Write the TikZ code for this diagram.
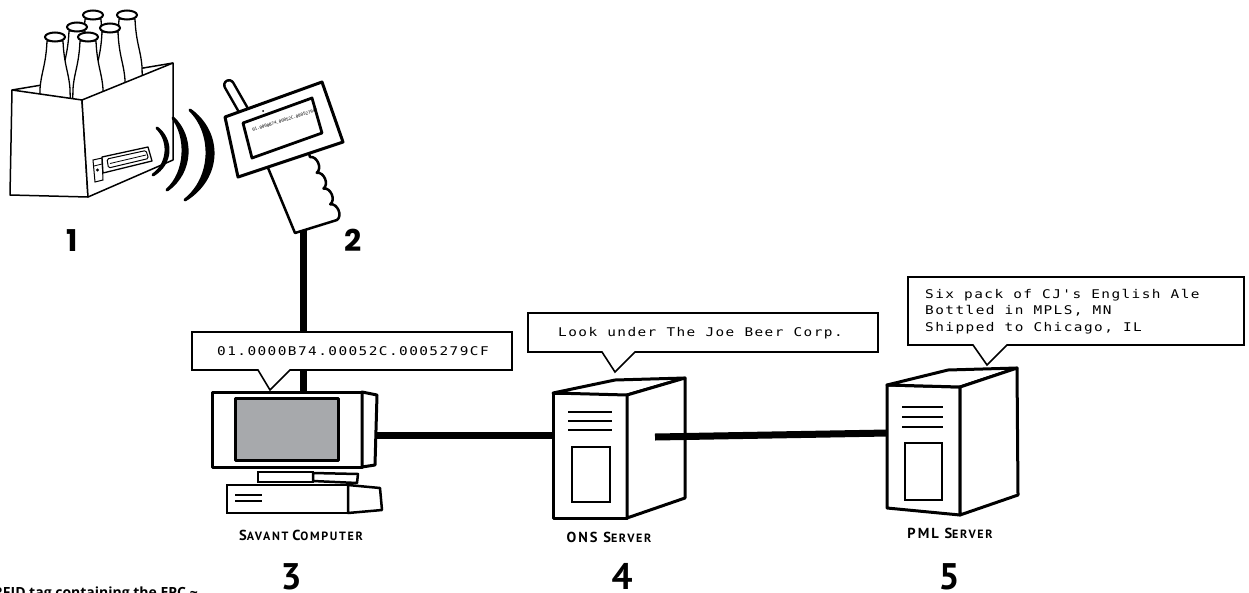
\documentclass[tikz,border=0pt]{standalone}
\usepackage{fontspec}
\setmainfont{PT Sans}
\newfontfamily\lcdfont[FakeStretch=1.2,LetterSpace=12]{DejaVu Sans Mono}
\newfontfamily\tinymono{DejaVu Sans Mono}
\newfontfamily\capfont[LetterSpace=14]{PT Sans}
\newfontfamily\geofont{Poppins}
\newfontfamily\notefont{Open Sans}
\definecolor{screengray}{HTML}{A7A9AC}

% caption word set as large initial + smaller capitals
\newcommand\capword[2]{{\fontsize{14.5}{16}\selectfont #1}{\fontsize{12}{14}\selectfont #2}}

\tikzset{
  bottlepic/.pic={
    \draw[line width=1.3pt, fill=white, line join=round]
      (-8,4) .. controls (-9,28) and (-14,36) .. (-15,52) -- (-16,90)
      -- (16,90) -- (15,52) .. controls (14,36) and (9,28) .. (8,4) -- cycle;
    \draw[line width=2pt, fill=white] (0,0) ellipse [x radius=10pt, y radius=4.5pt];
  }
}

\begin{document}
\begin{tikzpicture}[x=1pt,y=-1pt,
  boxline/.style={line width=3pt,line join=round,fill=white},
  cablestyle/.style={line width=7pt},
  bubble/.style={draw,line width=1.6pt,line join=miter,fill=white},
  bubbletext/.style={font=\lcdfont\fontsize{12}{16.5}\selectfont,anchor=west,inner sep=0pt,align=left},
  capstyle/.style={font=\capfont\bfseries,inner sep=0pt},
  digitstyle/.style={font=\bfseries\fontsize{37}{40}\selectfont,anchor=base,inner sep=0pt,text depth=0pt},
  geodigit/.style={font=\geofont\bfseries\fontsize{30}{32}\selectfont,anchor=base,inner sep=0pt},
  wavearc/.style={fill=black,draw=black,line width=3pt,line join=round},
]
\useasboundingbox (0,0) rectangle (1249,592);
\fill[white] (0,0) rectangle (1249,592);
\clip (0,0) rectangle (1249,592);

% ---------- connection points and cables ----------
\coordinate (readerfoot) at (303,226);
\coordinate (pctop) at (303,393);
\coordinate (pcside) at (376,435);
\coordinate (onsfront) at (554,435);
\coordinate (onsport) at (655,437);
\coordinate (pmlfront) at (888,433);
\draw[cablestyle] (readerfoot) -- (pctop);
\draw[cablestyle] (pcside) -- (onsfront);

% ---------- six pack ----------
\draw[line width=1.5pt] (12,90) -- (173,63);
\pic at (93,15) {bottlepic};
\pic at (127,15) {bottlepic};
\pic at (77,27) {bottlepic};
\pic at (110,28) {bottlepic};
\pic at (55,37) {bottlepic};
\pic at (88,37) {bottlepic};
\draw[line width=1.5pt, fill=white, line join=round] (12,90) -- (82,100) -- (88,197) -- (10,195) -- cycle;
\draw[line width=1.5pt, fill=white, line join=round] (82,100) -- (173,63) -- (173,160) -- (88,197) -- cycle;
% RFID tag on the carton
\draw[line width=1pt, fill=white] (93,160) -- (102,158) -- (103,180) -- (95,182) -- cycle;
\draw[line width=0.8pt] (94,166) -- (102,164);
\fill (97.5,170) circle (1.6pt);
\draw[line width=1.3pt, fill=white, line join=round] (102,157) -- (148,147) -- (152,161) -- (103,173) -- cycle;
\draw[line width=1pt, rounded corners=1.5pt] (107,159) -- (146,150.5) -- (148.5,158.5) -- (108.5,168) -- cycle;
\draw[line width=0.8pt] (110,163.5) -- (146,155);

% ---------- radio waves ----------
\draw[wavearc] (157,128) .. controls (172.3,139.75) and (172.3,163.25) .. (153,175)
  .. controls (169.7,163.25) and (169.7,139.75) .. (157,128) -- cycle;
\draw[wavearc] (173,118) .. controls (192.7,136) and (192.7,172) .. (167,190)
  .. controls (187.3,172) and (187.3,136) .. (173,118) -- cycle;
\draw[wavearc] (190,110) .. controls (221.5,132.5) and (221.5,177.5) .. (185,200)
  .. controls (213.5,177.5) and (213.5,132.5) .. (190,110) -- cycle;

% ---------- hand-held reader ----------
\draw[line width=12pt, line cap=round] (229,85) -- (245,113);
\draw[white, line width=7pt, line cap=round] (229,85) -- (245,113);
\draw[line width=2.5pt, fill=white, line join=round]
  (266,163) -- (295,233) -- (337,220)
  .. controls (342.8,215.7) and (337.4,203.1) .. (330.25,204.25)
  .. controls (336.1,199.9) and (330.6,187.3) .. (323.5,188.5)
  .. controls (329.3,184.2) and (323.9,171.6) .. (316.75,172.75)
  .. controls (322.5,168.4) and (317.1,155.8) .. (310,157)
  -- (308,150) -- cycle;
\draw[boxline] (225,117) -- (322,82) -- (343,142) -- (238,177) -- cycle;
\draw[line width=2.8pt, fill=white, line join=round] (243,123) -- (312,98) -- (322,133) -- (252,158) -- cycle;
\fill (263,111) circle (1pt);
\node[font=\tinymono\fontsize{4.2}{5}\selectfont, rotate=17, inner sep=0pt] (readerlcd) at (285,120) {01.0000B74.00052C.0005279CF};

% ---------- savant computer ----------
\draw[boxline] (212,392) rectangle (362,467);
\draw[boxline] (362,392) -- (377,395) -- (375,465) -- (362,467) -- cycle;
\draw[boxline, fill=screengray] (235,398) rectangle (338,460);
\draw[line width=2.5pt, fill=white] (258,472) rectangle (313,482);
\draw[line width=2.5pt, fill=white, line join=round] (313,473) -- (358,474) -- (357,483) -- (313,481) -- cycle;
\draw[line width=2.5pt, fill=white] (227,485) rectangle (348,513);
\draw[line width=2.5pt, fill=white, line join=round] (348,485) -- (380,488) -- (382,510) -- (348,513) -- cycle;
\draw[line width=1.5pt] (235,495) -- (262,495) (235,501) -- (262,501);

% ---------- ONS server ----------
\draw[boxline] (553,393) rectangle (627,518);
\draw[boxline] (553,393) -- (615,380) -- (685,378) -- (627,395) -- cycle;
\draw[boxline] (627,395) -- (685,378) -- (685,498) -- (627,518) -- cycle;
\draw[line width=2.5pt] (568,412) -- (612,412) (568,421) -- (612,421) (568,430) -- (612,430);
\draw[line width=2.5pt] (572,447) rectangle (610,502);

\draw[cablestyle] (onsport) -- (pmlfront);

% ---------- PML server ----------
\draw[boxline] (887,385) -- (960,387) -- (960,515) -- (887,508) -- cycle;
\draw[boxline] (887,385) -- (948,370) -- (1017,368) -- (960,387) -- cycle;
\draw[boxline] (960,387) -- (1017,368) -- (1018,495) -- (960,515) -- cycle;
\draw[line width=2.5pt] (902,407) -- (943,407) (902,417) -- (943,417) (902,427) -- (943,427);
\draw[line width=2.5pt] (905,443) rectangle (942,500);

% ---------- speech bubbles ----------
\draw[bubble] (192,332) -- (512,332) -- (512,370) -- (290,370) -- (270,390) -- (258,370) -- (192,370) -- cycle;
\node[bubbletext] (epcmsg) at (217,351) {01.0000B74.00052C.0005279CF};
\draw[bubble] (528,313) -- (878,313) -- (878,352) -- (635,352) -- (615,372) -- (602,352) -- (528,352) -- cycle;
\node[bubbletext] (onsmsg) at (558,333) {Look under The Joe Beer Corp.};
\draw[bubble] (908,277) -- (1244,277) -- (1244,345) -- (1007,345) -- (987,365) -- (973,345) -- (908,345) -- cycle;
\node[bubbletext] (pmlmsg) at (925,311.5) {Six pack of CJ's English Ale\\Bottled in MPLS, MN\\Shipped to Chicago, IL};

% ---------- captions and step numbers ----------
\node[capstyle] (savantlbl) at (301,535) {\capword{S}{AVANT} \capword{C}{OMPUTER}};
\node[capstyle] (onslbl) at (609,537) {\capword{ONS S}{ERVER}};
\node[capstyle] (pmllbl) at (950,533) {\capword{PML S}{ERVER}};
\node[geodigit] (num1) at (72,251) {1};
\node[geodigit] (num2) at (353,251) {2};
\node[digitstyle] (num3) at (291,589) {3};
\node[digitstyle] (num4) at (622,589) {4};
\node[digitstyle] (num5) at (949,589) {5};
\node[font=\notefont\bfseries\fontsize{14}{16}\selectfont, anchor=base east, inner sep=0pt] (tagnote) at (198,597) {RFID tag containing the EPC \textasciitilde};
\end{tikzpicture}
\end{document}
